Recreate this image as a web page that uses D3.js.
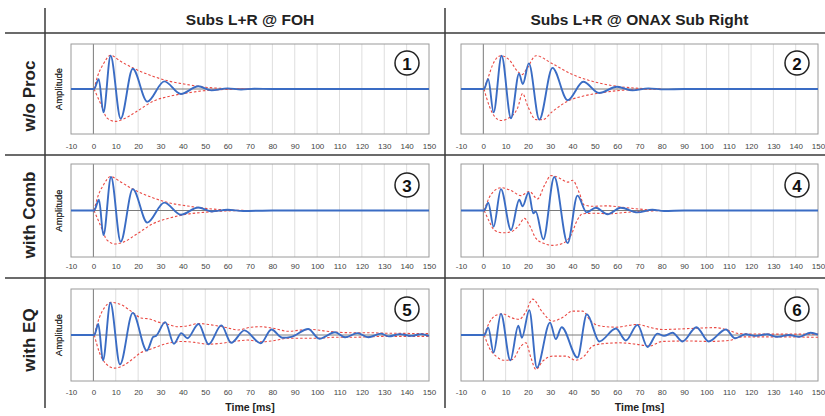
<!DOCTYPE html>
<html>
<head>
<meta charset="utf-8">
<script src="https://cdn.jsdelivr.net/npm/d3@7"></script>
<style>
	body { margin: 0; background: #fff; }
	svg { display: block; font-family: 'Liberation Sans', Arial, Helvetica, sans-serif; }
</style>
</head>
<body>
<div id="chart"></div>
<script>
"use strict";

//  Labels
const panelTitles = ['Subs L+R @ FOH', 'Subs L+R @ ONAX Sub Right'];
const rowLabels = ['w/o Proc', 'with Comb', 'with EQ'];
const timeTicks = [-10, 0, 10, 20, 30, 40, 50, 60, 70, 80, 90, 100, 110, 120, 130, 140, 150];

//  Impulse responses [ms, amplitude] and envelopes
const ir1 = [[-10,0],[0.3,0],[2.4,0.22],[4.5,-0.52],[7.7,0.74],[12.2,-0.66],[17.6,0.45],[24.1,-0.28],[31.7,0.17],[39.1,-0.11],[46.9,0.06],[52.8,-0.03],[60,0.015],[66,-0.01],[72,0.005],[80,0],[150,0]];
const env1Upper = [[0.3,0],[2,0.3],[4.5,0.56],[7.7,0.75],[12,0.62],[17.6,0.47],[26.8,0.28],[34.2,0.17],[41.7,0.1],[49.1,0.045],[56.5,0.015],[70,0]];
const env1Lower = [[0.3,0],[3.7,-0.38],[6,-0.64],[9.7,-0.72],[13.4,-0.67],[19.3,-0.5],[26.8,-0.27],[34.2,-0.16],[41.7,-0.09],[49.1,-0.04],[56.5,-0.015],[70,0]];

const ir2 = [[-10,0],[0.3,0],[2.2,0.22],[4.6,-0.52],[8.2,0.74],[12.4,-0.65],[16,0.34],[17.7,0.11],[20.4,0.57],[25.1,-0.68],[31,0.47],[37.8,-0.25],[44.8,0.16],[51.9,-0.09],[59.9,0.05],[66.9,-0.03],[74,0.015],[81,-0.008],[90,0],[150,0]];
const env2Upper = [[0.3,0],[2.5,0.3],[4.2,0.54],[7.9,0.74],[11.6,0.65],[15.4,0.39],[17.4,0.32],[19.5,0.45],[23.6,0.74],[31,0.56],[40,0.32],[47.5,0.19],[55,0.1],[62.4,0.045],[70,0.015],[80,0]];
const env2Lower = [[0.3,0],[2.7,-0.38],[4.9,-0.6],[7.9,-0.7],[11.6,-0.64],[15.4,-0.42],[17.6,-0.1],[19.9,-0.38],[23.6,-0.68],[26.6,-0.68],[31,-0.5],[37.8,-0.27],[44.5,-0.16],[52,-0.09],[59.4,-0.04],[70,-0.01],[80,0]];

const ir3 = [[-10,0],[0.3,0],[2.5,0.23],[4.5,-0.53],[7.9,0.72],[12.2,-0.67],[17.6,0.46],[24.1,-0.26],[31.7,0.17],[39.1,-0.09],[46.9,0.065],[52.8,-0.02],[60,0.015],[67,-0.01],[80,0],[150,0]];
const env3Upper = [[0.3,0],[2,0.3],[4.5,0.55],[7.7,0.73],[12,0.62],[17.6,0.46],[26.8,0.27],[34.2,0.16],[41.7,0.1],[49.1,0.05],[56.5,0.02],[70,0]];
const env3Lower = [[0.3,0],[3.7,-0.38],[6,-0.63],[9.7,-0.72],[13.4,-0.68],[19.3,-0.51],[26.8,-0.28],[34.2,-0.16],[41.7,-0.08],[49.1,-0.04],[56.5,-0.015],[70,0]];

const ir4 = [[-10,0],[0.4,0],[2.2,0.17],[4.6,-0.35],[7.9,0.46],[12.4,-0.42],[16.1,0.23],[17.6,0.09],[20.3,0.39],[22.4,-0.06],[23.5,-0.02],[26.9,-0.62],[31.8,0.72],[37.8,-0.7],[42.2,0.32],[46.3,-0.04],[50.4,0.06],[55.7,-0.08],[61.6,0.06],[69.1,-0.04],[75.8,0.015],[81,-0.01],[90,0],[150,0]];
const env4Upper = [[0.4,0],[3.4,0.34],[7.9,0.49],[12.4,0.43],[16.9,0.32],[20.6,0.41],[24.3,0.25],[27.5,0.55],[30.3,0.75],[34,0.7],[37.8,0.61],[40,0.65],[43,0.38],[45.2,0.12],[49,0.09],[55,0.1],[62.4,0.07],[70,0.03],[80,0]];
const env4Lower = [[0.4,0],[2.7,-0.24],[4.9,-0.42],[8.7,-0.48],[12.4,-0.46],[16.1,-0.31],[18.4,-0.17],[20.6,-0.31],[23.6,-0.6],[27.3,-0.71],[31,-0.75],[35.5,-0.71],[39.3,-0.53],[42.2,-0.2],[44.5,-0.07],[50.4,-0.06],[56.4,-0.07],[64,-0.04],[71,-0.02],[80,0]];

const ir5 = [[-10,0],[0.4,0],[2.2,0.24],[4.3,-0.55],[7.6,0.7],[11.9,-0.64],[17.6,0.48],[23.9,-0.34],[26.8,-0.04],[28,-0.02],[32.1,0.28],[36,-0.19],[39.3,0.04],[42,-0.07],[47,0.24],[51.5,-0.2],[57.2,0.21],[61.6,-0.17],[67.5,0.1],[74.8,-0.18],[79.6,0.12],[84.5,-0.06],[88.5,-0.04],[96,0.13],[101,-0.08],[108,0.06],[112.5,-0.05],[118,0.04],[123,-0.05],[128.5,0.03],[132,-0.03],[137,0.02],[142,-0.02],[146.5,0.02],[150,-0.02]];
const env5Upper = [[0.4,0],[2.7,0.38],[4.9,0.59],[7.9,0.71],[12.4,0.66],[17.6,0.49],[21.3,0.37],[25,0.35],[29,0.28],[32,0.25],[37.8,0.18],[42.2,0.2],[47,0.25],[52.7,0.22],[58.7,0.17],[64.6,0.11],[70.6,0.17],[75,0.18],[81,0.14],[87,0.08],[93,0.11],[97.5,0.12],[103,0.09],[109.4,0.06],[115,0.05],[123,0.05],[130,0.04],[140,0.035],[150,0.03]];
const env5Lower = [[0.4,0],[2.7,-0.38],[5.7,-0.63],[9.4,-0.72],[13.1,-0.67],[17.6,-0.52],[21.3,-0.38],[24.3,-0.33],[28.8,-0.25],[33.3,-0.18],[39.3,-0.14],[45.2,-0.16],[51.2,-0.2],[57.2,-0.18],[63,-0.14],[69,-0.11],[75,-0.15],[81,-0.12],[87,-0.07],[100,-0.07],[108,-0.05],[115,-0.05],[123,-0.04],[130,-0.03],[150,-0.03]];

const ir6 = [[-10,0],[0.4,0],[2.2,0.16],[4.6,-0.38],[7.9,0.46],[12.1,-0.55],[15.7,0.2],[17.3,-0.06],[20.6,0.54],[24,-0.71],[29.9,0.27],[32.5,-0.09],[35.1,0.17],[42.2,-0.49],[46.4,0.45],[52,-0.14],[59.4,0.14],[63.9,-0.12],[69.1,0.22],[73.6,-0.26],[78,0.03],[81,-0.02],[84.8,0.05],[89.3,-0.14],[95.5,0.17],[101,-0.14],[108.7,0.12],[112.8,-0.07],[117.6,0.015],[122,-0.02],[127,0.015],[131.8,-0.04],[137,0],[141.5,-0.04],[146.7,0.05],[150,0.01]];
const env6Upper = [[0.4,0],[2.7,0.27],[5.7,0.43],[8.7,0.46],[12.4,0.38],[16.1,0.34],[19,0.5],[22.1,0.78],[26.6,0.49],[31,0.3],[35.5,0.38],[40,0.52],[44.5,0.52],[48.2,0.3],[52,0.2],[59.4,0.17],[69.1,0.23],[74.3,0.17],[80.3,0.12],[92.2,0.14],[104,0.16],[110,0.1],[114.6,0.03],[125,0.02],[150,0.02]];
const env6Lower = [[0.4,0],[2.7,-0.28],[5.7,-0.46],[9.4,-0.55],[13.1,-0.53],[16.9,-0.24],[19.1,-0.17],[21.3,-0.49],[23.6,-0.75],[26.6,-0.57],[31,-0.46],[37,-0.46],[41.5,-0.55],[45.2,-0.46],[49,-0.24],[53.4,-0.19],[61,-0.17],[68.4,-0.2],[74.3,-0.24],[80.3,-0.14],[92,-0.13],[101,-0.14],[110,-0.12],[116,-0.04],[130,-0.04],[150,-0.05]];

//  Layout
const width = 825, height = 416;
const cols = [
	{ left: 71, right: 429, circleX: 407 },
	{ left: 461, right: 818, circleX: 797 }
];
const rows = [
	{ top: 44, bottom: 134, labelY: 146, circleY: 63, rowLabelY: 96 },
	{ top: 164, bottom: 257, labelY: 266, circleY: 185, rowLabelY: 215 },
	{ top: 289, bottom: 381, labelY: 392, circleY: 309, rowLabelY: 340 }
];
const plots = [
	{ row: 0, col: 0, num: 1, ir: ir1, upper: env1Upper, lower: env1Lower },
	{ row: 0, col: 1, num: 2, ir: ir2, upper: env2Upper, lower: env2Lower },
	{ row: 1, col: 0, num: 3, ir: ir3, upper: env3Upper, lower: env3Lower },
	{ row: 1, col: 1, num: 4, ir: ir4, upper: env4Upper, lower: env4Lower },
	{ row: 2, col: 0, num: 5, ir: ir5, upper: env5Upper, lower: env5Lower },
	{ row: 2, col: 1, num: 6, ir: ir6, upper: env6Upper, lower: env6Lower }
];

const frameColor = '#3a3a3a', blue = '#3a6cc4', red = '#ea4a44';

let svg = d3.select('#chart').append('svg')
	.attr('width', width)
	.attr('height', height);

//  Table frame
[33, 155, 278].forEach(y =>
	svg.append('line').attr('x1', 5).attr('x2', width).attr('y1', y).attr('y2', y)
		.attr('stroke', frameColor).attr('stroke-width', 1.5));
[45, 445].forEach(x =>
	svg.append('line').attr('x1', x).attr('x2', x).attr('y1', 8).attr('y2', 408)
		.attr('stroke', frameColor).attr('stroke-width', 1.5));

panelTitles.forEach((title, i) =>
	svg.append('text')
		.attr('x', (cols[i].left + cols[i].right) / 2)
		.attr('y', 25)
		.attr('text-anchor', 'middle')
		.attr('font-size', 15.5)
		.attr('font-weight', 'bold')
		.attr('fill', '#222')
		.text(title));

rowLabels.forEach((label, i) =>
	svg.append('text')
		.attr('transform', `translate(29, ${rows[i].rowLabelY}) rotate(-90)`)
		.attr('text-anchor', 'middle')
		.attr('dominant-baseline', 'central')
		.attr('font-size', 17)
		.attr('font-weight', 'bold')
		.attr('fill', '#222')
		.text(label));

cols.forEach(col =>
	svg.append('text')
		.attr('x', (col.left + col.right) / 2)
		.attr('y', 411)
		.attr('text-anchor', 'middle')
		.attr('font-size', 10.5)
		.attr('font-weight', 'bold')
		.attr('fill', '#222')
		.text('Time [ms]'));

//  Plots
plots.forEach(plot => {
	const row = rows[plot.row], col = cols[plot.col];
	const x = d3.scaleLinear().domain([-10, 150]).range([col.left, col.right]);
	const y = d3.scaleLinear().domain([-1, 1]).range([row.bottom, row.top]);
	const g = svg.append('g');

	g.append('rect')
		.attr('x', col.left).attr('y', row.top)
		.attr('width', col.right - col.left).attr('height', row.bottom - row.top)
		.attr('fill', '#fff');

	g.selectAll('.grid')
		.data(timeTicks.filter(t => t > -10 && t < 150))
		.join('line')
		.attr('x1', t => x(t)).attr('x2', t => x(t))
		.attr('y1', row.top).attr('y2', row.bottom)
		.attr('stroke', t => t === 0 ? '#7a7a7a' : '#dedede')
		.attr('stroke-width', 1);

	g.append('line')
		.attr('x1', col.left).attr('x2', col.right)
		.attr('y1', y(0)).attr('y2', y(0))
		.attr('stroke', '#7a7a7a');

	g.append('rect')
		.attr('x', col.left).attr('y', row.top)
		.attr('width', col.right - col.left).attr('height', row.bottom - row.top)
		.attr('fill', 'none')
		.attr('stroke', '#9a9a9a');

	const line = d3.line()
		.x(d => x(d[0]))
		.y(d => y(d[1]))
		.curve(d3.curveMonotoneX);

	[plot.upper, plot.lower].forEach(env =>
		g.append('path')
			.attr('d', line(env))
			.attr('fill', 'none')
			.attr('stroke', red)
			.attr('stroke-width', 1.1)
			.attr('stroke-dasharray', '2.5,2'));

	g.append('path')
		.attr('d', line(plot.ir))
		.attr('fill', 'none')
		.attr('stroke', blue)
		.attr('stroke-width', 1.9)
		.attr('stroke-linejoin', 'round');

	const axis = g.append('g')
		.attr('transform', `translate(0, ${row.bottom})`)
		.call(d3.axisBottom(x).tickValues(timeTicks).tickFormat(t => String(t))
			.tickSize(0).tickPadding(row.labelY - row.bottom - 3));
	axis.select('.domain').remove();
	axis.selectAll('text')
		.attr('font-size', 8)
		.attr('font-family', "'Liberation Sans', Arial, sans-serif")
		.attr('fill', '#444');

	g.append('text')
		.attr('transform', `translate(58, ${(row.top + row.bottom) / 2}) rotate(-90)`)
		.attr('text-anchor', 'middle')
		.attr('dominant-baseline', 'central')
		.attr('font-size', 9.5)
		.attr('fill', '#333')
		.text('Amplitude');

	g.append('circle')
		.attr('cx', col.circleX).attr('cy', row.circleY)
		.attr('r', 12)
		.attr('fill', '#fff')
		.attr('stroke', '#222')
		.attr('stroke-width', 1.5);
	g.append('text')
		.attr('x', col.circleX).attr('y', row.circleY + 1)
		.attr('text-anchor', 'middle')
		.attr('dominant-baseline', 'central')
		.attr('font-size', 17)
		.attr('font-weight', 'bold')
		.attr('fill', '#111')
		.text(plot.num);
});
</script>
</body>
</html>
